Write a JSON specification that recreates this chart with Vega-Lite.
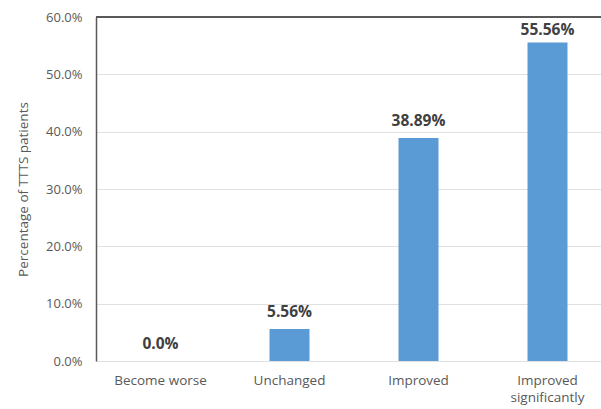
{
  "$schema": "https://vega.github.io/schema/vega-lite/v6.json",
  "autosize": "none",
  "width": 516,
  "height": 344,
  "padding": {"left": 96, "top": 17, "right": 0, "bottom": 48},
  "background": "white",
  "config": {"view": {"stroke": null}, "font": "Open Sans"},
  "data": {"values": [
    {"category": "Become worse", "value": 0.0, "label": "0.0%"},
    {"category": "Unchanged", "value": 0.0556, "label": "5.56%"},
    {"category": "Improved", "value": 0.3889, "label": "38.89%"},
    {"category": "Improved significantly", "value": 0.5556, "label": "55.56%"}
  ]},
  "encoding": {
    "x": {"field": "category", "type": "nominal", "sort": null,
      "scale": {"paddingInner": 0, "paddingOuter": 0},
      "axis": {"title": null, "labelAngle": 0, "domain": false, "ticks": false,
        "labelColor": "#595959", "labelFontSize": 13.5, "labelPadding": 12,
        "labelExpr": "datum.label == 'Improved significantly' ? ['Improved', 'significantly'] : datum.label",
        "labelLineHeight": 17}},
    "y": {"field": "value", "type": "quantitative",
      "scale": {"domain": [0, 0.6], "nice": false},
      "axis": {"format": ".1%", "values": [0, 0.1, 0.2, 0.3, 0.4, 0.5, 0.6], "labelOverlap": false,
        "title": "Percentage of TTTS patients", "titleFontWeight": "normal", "titleFontSize": 13.5,
        "titleColor": "#595959", "titlePadding": 15,
        "labelColor": "#595959", "labelFontSize": 13, "labelPadding": 14,
        "domainColor": "#595959", "domainWidth": 1.5, "ticks": false,
        "gridColor": "#e0e0e0", "gridWidth": 1}}
  },
  "layer": [
    {"mark": {"type": "rule", "color": "#595959", "strokeWidth": 1.5},
     "encoding": {"y": {"datum": 0.6}, "x": null}},
    {"mark": {"type": "bar", "width": {"band": 0.31}, "color": "#5b9bd5"}},
    {"transform": [{"filter": "datum.value < 0.5"}],
     "mark": {"type": "text", "baseline": "bottom", "dy": -9, "fontSize": 15.5, "fontWeight": "bold", "color": "#404040"},
     "encoding": {"text": {"field": "label"}}},
    {"transform": [{"filter": "datum.value >= 0.5"}],
     "mark": {"type": "text", "baseline": "bottom", "dy": -4, "fontSize": 15.5, "fontWeight": "bold", "color": "#404040"},
     "encoding": {"text": {"field": "label"}}}
  ]
}
